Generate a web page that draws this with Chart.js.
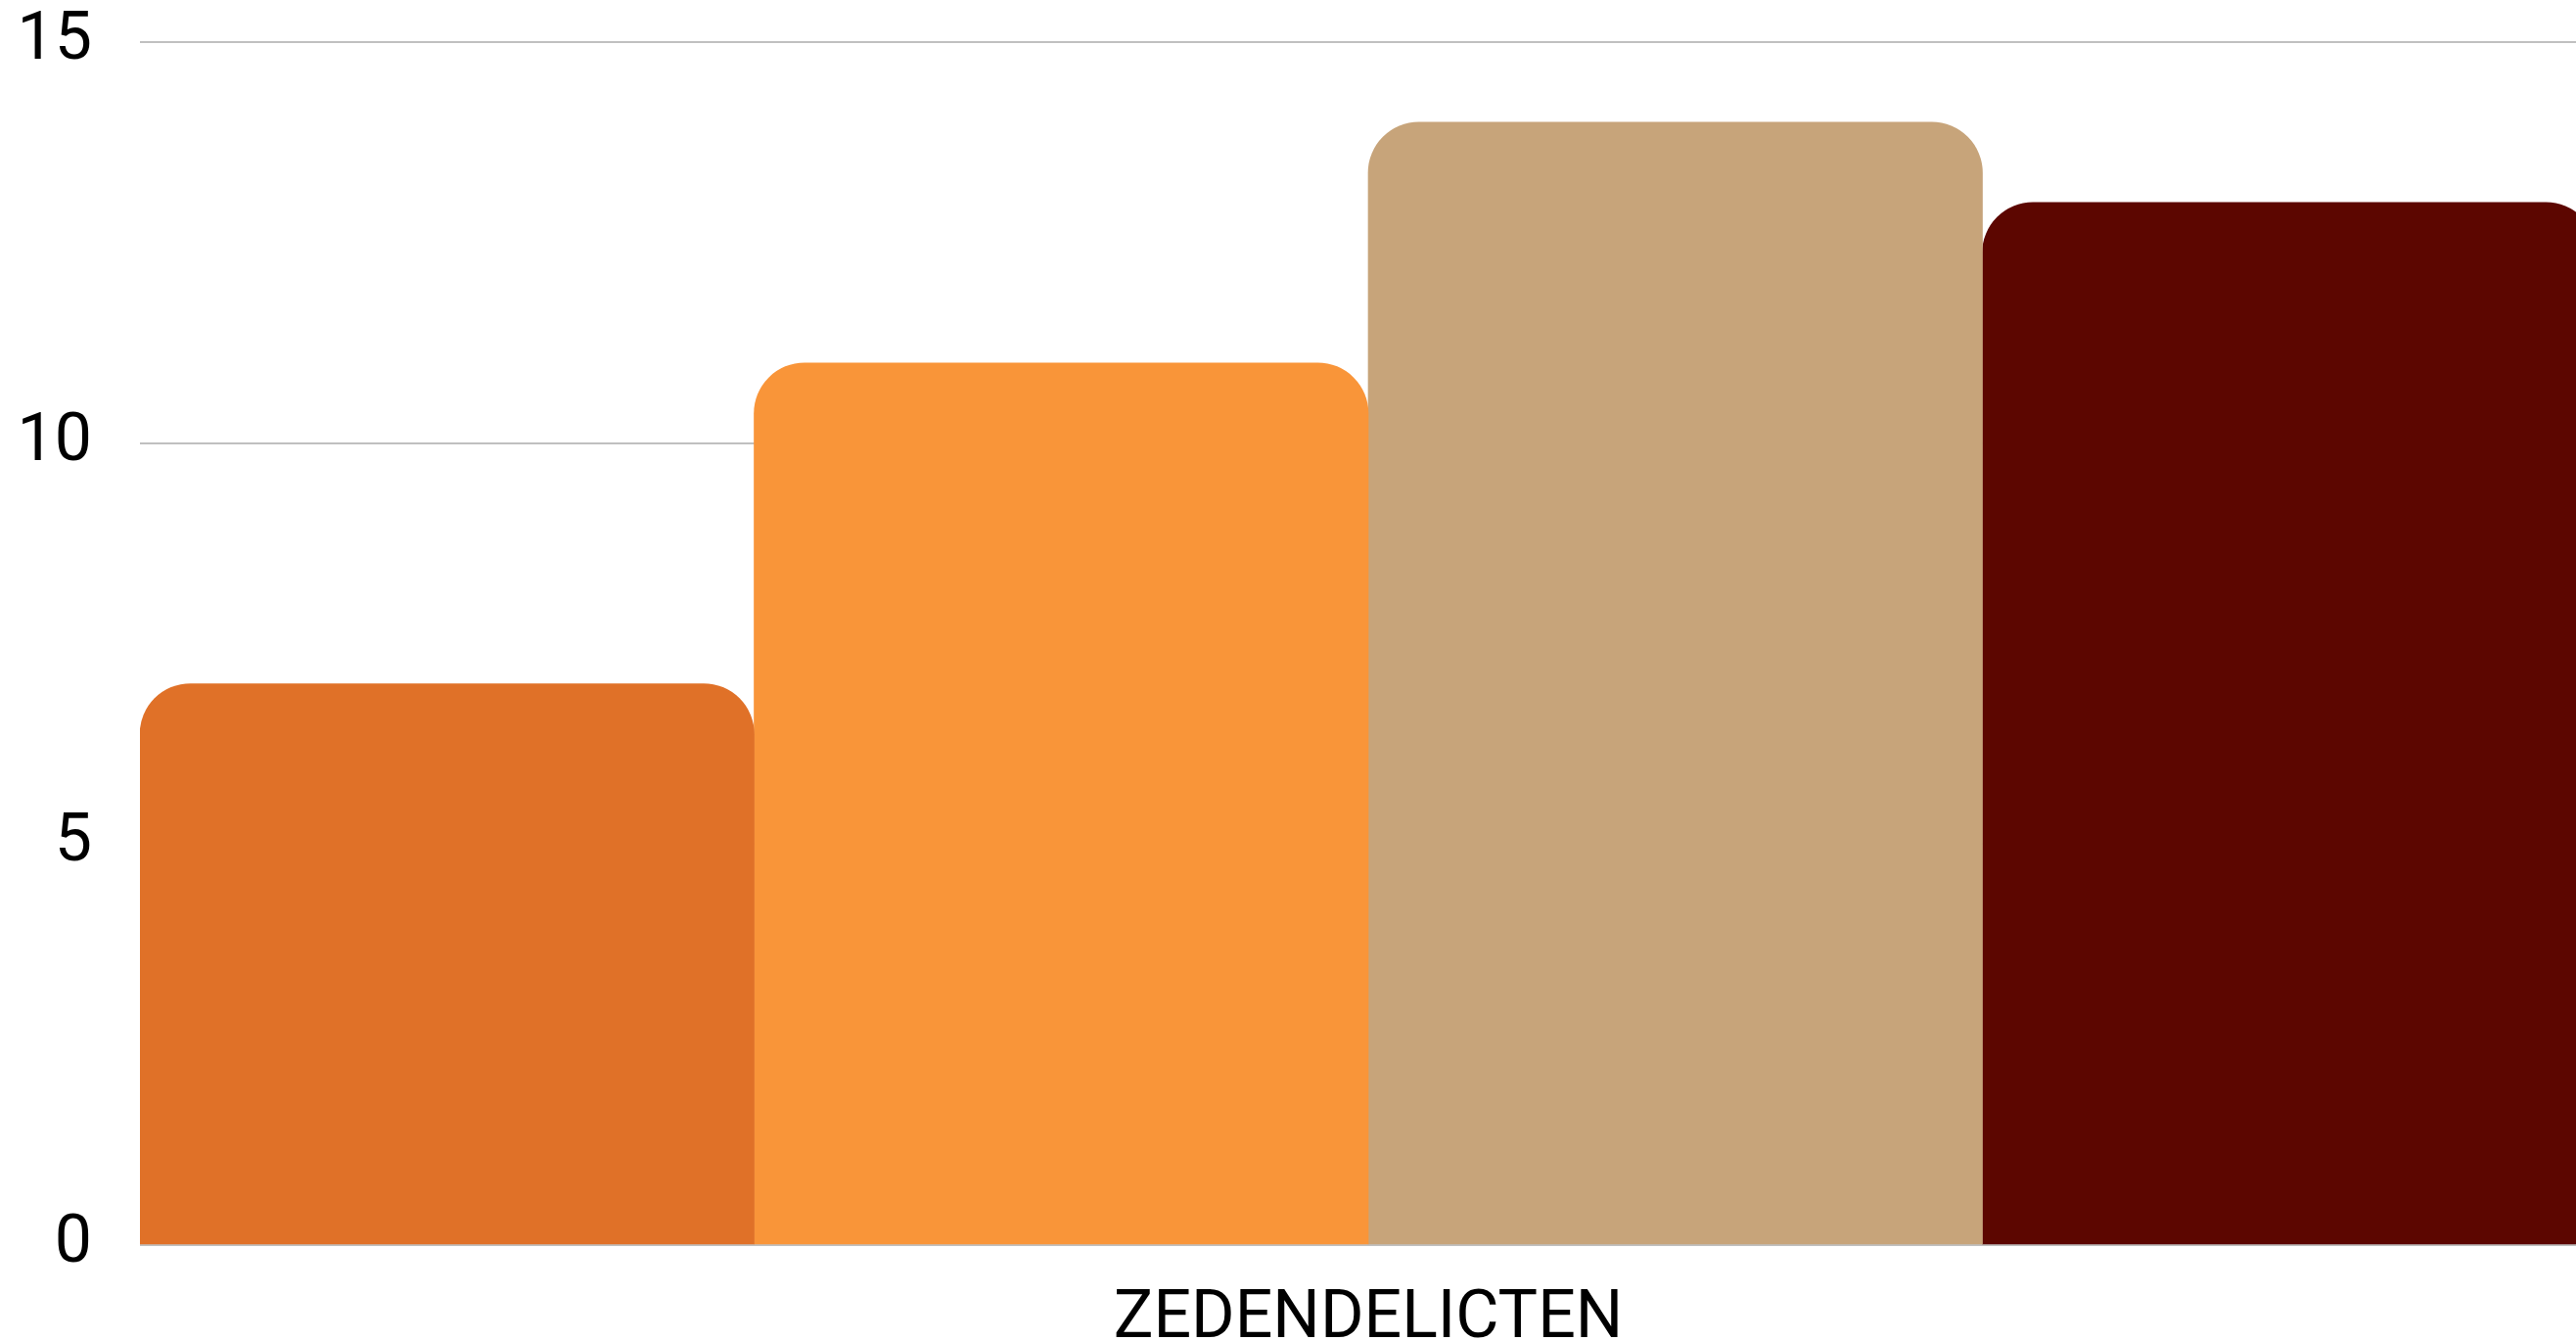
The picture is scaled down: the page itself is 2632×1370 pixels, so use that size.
<!DOCTYPE html>
<html>
<head>
<meta charset="utf-8">
<script src="https://cdn.jsdelivr.net/npm/chart.js@4/dist/chart.umd.min.js"></script>
<style>
html,body{margin:0;padding:0;background:#fff;overflow:hidden;width:2632px;height:1370px;}
canvas{display:block;}
</style>
</head>
<body>
<canvas id="c" width="2653" height="1370"></canvas>
<script>
const categories = ["ZEDENDELICTEN"];
const seriesNames = ["Reeks 1", "Reeks 2", "Reeks 3", "Reeks 4"];
const seriesValues = [[7], [11], [14], [13]];
const seriesColors = ["#E07128", "#F99539", "#C7A47A", "#5C0600"];
const yTicks = [0, 5, 10, 15];

const FONT = "Roboto";

new Chart(document.getElementById('c'), {
  type: 'bar',
  data: {
    labels: categories,
    datasets: seriesNames.map((n, i) => ({
      label: n,
      data: seriesValues[i],
      backgroundColor: seriesColors[i],
      borderWidth: 0,
      borderRadius: 52,
      categoryPercentage: 1,
      barPercentage: 1
    }))
  },
  options: {
    responsive: false,
    animation: false,
    devicePixelRatio: 1,
    layout: { padding: { top: 43, right: 0, left: 0, bottom: 0 } },
    plugins: { legend: { display: false }, tooltip: { enabled: false } },
    scales: {
      x: {
        grid: { display: false },
        border: { display: false },
        ticks: { color: '#000', font: { family: FONT, size: 68 }, padding: 28, maxRotation: 0 },
        afterFit: (s) => { s.height = 98; }
      },
      y: {
        min: yTicks[0],
        max: yTicks[yTicks.length - 1],
        afterBuildTicks: (s) => { s.ticks = yTicks.map(v => ({ value: v })); },
        grid: { color: '#c0c0c0', lineWidth: 2, drawTicks: true, tickLength: 49, tickColor: 'rgba(0,0,0,0)' },
        border: { display: false },
        ticks: { color: '#000', font: { family: FONT, size: 68 }, padding: 0 },
        afterFit: (s) => { s.width = 143; }
      }
    }
  }
});
</script>
</body>
</html>
